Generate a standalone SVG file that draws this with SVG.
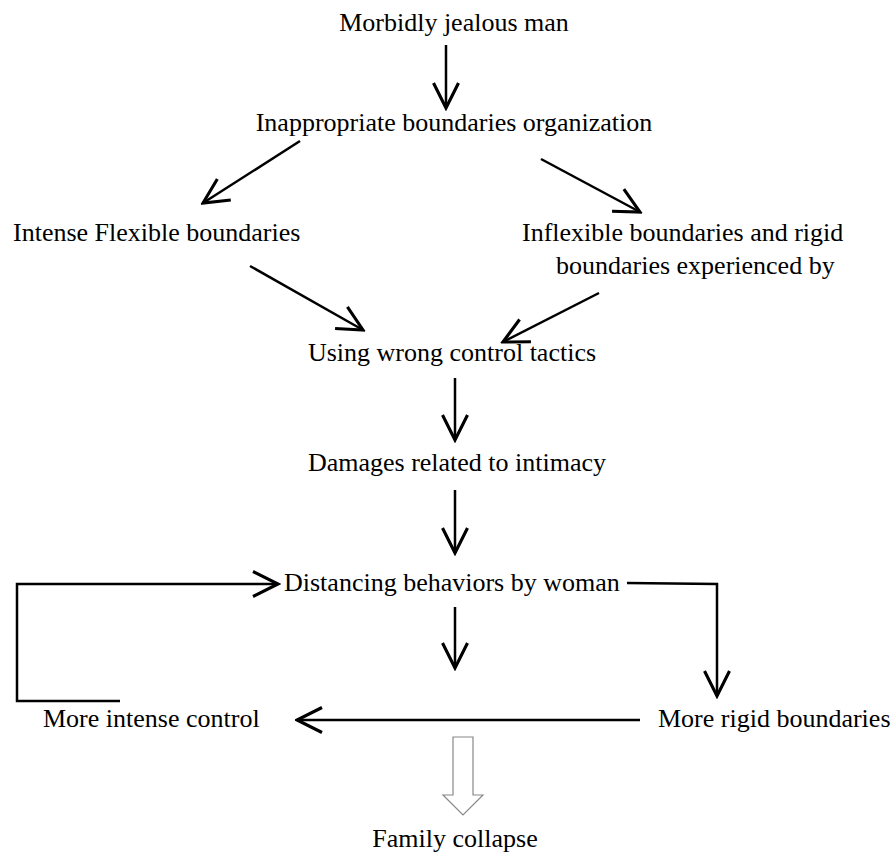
<svg xmlns="http://www.w3.org/2000/svg" width="896" height="860" viewBox="0 0 896 860">
<style>
text{font-family:"Liberation Serif","Times New Roman",serif;font-size:26px;fill:#000}
.m{text-anchor:middle}
.c{fill:none;stroke:#000;stroke-width:2.5;marker-end:url(#ah)}
</style>
<defs>
<marker id="ah" markerUnits="userSpaceOnUse" markerWidth="30" markerHeight="30" viewBox="-22 -12 24 24" refX="0" refY="0" orient="auto">
<path d="M-20,-10 L0,0 L-20,10" fill="none" stroke="#000" stroke-width="2.5"/>
</marker>
</defs>
<rect width="896" height="860" fill="#fff"/>
<g id="n1"><text class="m" x="454" y="31">Morbidly jealous man</text></g>
<g id="n2"><text class="m" x="454" y="131">Inappropriate boundaries organization</text></g>
<g id="n3"><text x="13" y="241">Intense Flexible boundaries</text></g>
<g id="n4"><text x="522" y="241">Inflexible boundaries and rigid</text><text x="556" y="274">boundaries experienced by</text></g>
<g id="n5"><text class="m" x="452" y="361">Using wrong control tactics</text></g>
<g id="n6"><text class="m" x="457" y="471">Damages related to intimacy</text></g>
<g id="n7"><text x="284" y="591">Distancing behaviors by woman</text></g>
<g id="n8"><text x="43" y="727">More intense control</text></g>
<g id="n9"><text x="658" y="727">More rigid boundaries</text></g>
<g id="n10"><text class="m" x="455" y="847">Family collapse</text></g>
<g id="connectors">
<path class="c" d="M446,45 L446,108"/>
<path class="c" d="M300,141 L203,203"/>
<path class="c" d="M541,159 L640,212"/>
<path class="c" d="M250,266 L363,330"/>
<path class="c" d="M599,293 L503,342"/>
<path class="c" d="M455,378 L455,440"/>
<path class="c" d="M455,490 L455,553"/>
<path class="c" d="M120,701 L17,701 L17,584 L278,584"/>
<path class="c" d="M627,583 L717,584 L717,696"/>
<path class="c" d="M455,607 L455,668"/>
<path class="c" d="M640,720 L297,720"/>
<polygon points="453,737 473,737 473,795 483,795 463,815 443,795 453,795" fill="#fff" stroke="#888" stroke-width="1.2"/>
</g>
</svg>
